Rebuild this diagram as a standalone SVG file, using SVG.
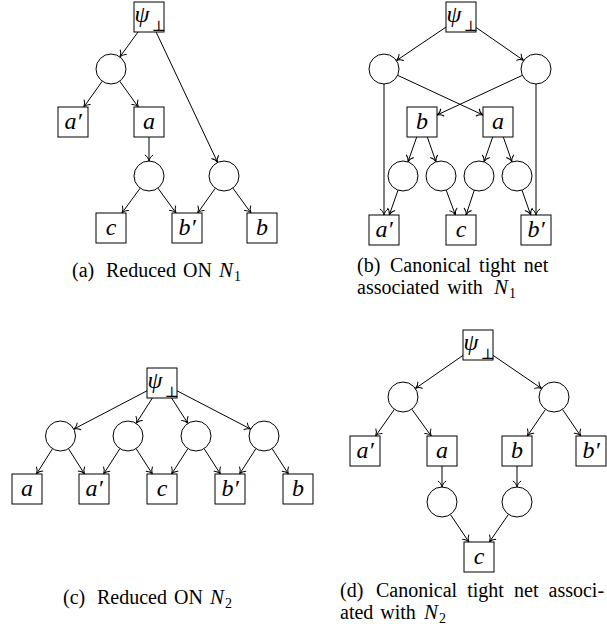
<svg xmlns="http://www.w3.org/2000/svg" width="607" height="636" viewBox="0 0 607 636">
<defs>
<style>
.bx{fill:#fff;stroke:#000;stroke-width:1}
.ci{fill:#fff;stroke:#000;stroke-width:1}
.lb{font-family:"Liberation Serif","Times New Roman",serif;font-style:italic;font-size:24px;text-anchor:middle;fill:#000}
.ps{font-family:"Liberation Serif","Times New Roman",serif;font-style:italic;font-size:24px;fill:#000}
.bot{font-family:"DejaVu Serif",serif;font-size:15px;fill:#000}
.cap{font-family:"Liberation Serif","Times New Roman",serif;font-size:20px;fill:#000}
.it{font-style:italic;font-size:21px}
.sub{font-size:14px;font-style:normal}
.e{fill:none;stroke:#000;stroke-width:1;marker-end:url(#arr)}
</style>
<marker id="arr" viewBox="-7 -5 8 10" refX="0" refY="0" markerWidth="8" markerHeight="10" markerUnits="userSpaceOnUse" orient="auto">
<path d="M-5.8,-3.8 C-4.6,-1.7 -2,-0.4 0,0 C-2,0.4 -4.6,1.7 -5.8,3.8" fill="none" stroke="#000" stroke-width="1" stroke-linecap="round"/>
</marker>
</defs>

<g id="connectors">
<!-- panel a -->
<path class="e" d="M138,32 L119.9,56.9"/>
<path class="e" d="M156.1,32 L217.6,162.4"/>
<path class="e" d="M102.3,81.2 L83.8,107"/>
<path class="e" d="M119.7,81.2 L138.3,107"/>
<path class="e" d="M149,137 L149,161"/>
<path class="e" d="M140.2,188.1 L122,213"/>
<path class="e" d="M157.9,188.1 L176,213"/>
<path class="e" d="M215.3,188.2 L197.7,213"/>
<path class="e" d="M232.9,188.1 L251,213"/>
<!-- panel b -->
<path class="e" d="M446,27.1 L396.4,60.6"/>
<path class="e" d="M476,27.4 L523.7,60.5"/>
<path class="e" d="M384,84 L384,215"/>
<path class="e" d="M397.6,75.3 L483,115"/>
<path class="e" d="M522.4,75.3 L437,115"/>
<path class="e" d="M536,84 L536,215"/>
<path class="e" d="M416.7,137 L408,161.9"/>
<path class="e" d="M427.3,137 L436,161.9"/>
<path class="e" d="M492.7,137 L484,161.9"/>
<path class="e" d="M503.3,137 L512,161.9"/>
<path class="e" d="M398,190.2 L389.3,215"/>
<path class="e" d="M446.2,190.1 L455.4,215"/>
<path class="e" d="M474.3,190.2 L466,215"/>
<path class="e" d="M522,190.2 L530.7,215"/>
<!-- panel c -->
<path class="e" d="M147,390.8 L73.8,429.1"/>
<path class="e" d="M152.4,398 L136.1,423.4"/>
<path class="e" d="M171.6,398 L187.9,423.4"/>
<path class="e" d="M177,390.8 L250.7,429.1"/>
<path class="e" d="M52.5,448.7 L36.5,474"/>
<path class="e" d="M68.5,448.7 L84.5,474"/>
<path class="e" d="M119.9,448.6 L103.6,474"/>
<path class="e" d="M136.1,448.6 L152.4,474"/>
<path class="e" d="M187.9,448.6 L171.6,474"/>
<path class="e" d="M204.1,448.6 L220.4,474"/>
<path class="e" d="M255.9,448.6 L239.6,474"/>
<path class="e" d="M272.1,448.6 L288.4,474"/>
<!-- panel d -->
<path class="e" d="M463,355.4 L415.3,388.5"/>
<path class="e" d="M493,355.3 L541.6,388.5"/>
<path class="e" d="M394.4,409.3 L375.6,436"/>
<path class="e" d="M411.8,409.2 L431.2,436"/>
<path class="e" d="M545.5,409.4 L527.3,436"/>
<path class="e" d="M562.5,409.4 L580.7,436"/>
<path class="e" d="M442,466 L442,487"/>
<path class="e" d="M517,466 L517,487"/>
<path class="e" d="M450.4,514.5 L468.9,542"/>
<path class="e" d="M508.5,514.3 L489.4,542"/>
</g>

<!-- Panel (a) -->
<g id="a-psi"><rect class="bx" x="134" y="2" width="30" height="30"/><text class="ps" x="134.5" y="22">ψ</text><text class="bot" x="151.5" y="31">⊥</text></g>
<g id="a-or1"><circle class="ci" cx="111" cy="69" r="15"/></g>
<g id="a-aprime"><rect class="bx" x="58" y="107" width="30" height="30"/><text class="lb" x="73" y="129">a′</text></g>
<g id="a-a"><rect class="bx" x="134" y="107" width="30" height="30"/><text class="lb" x="149" y="129">a</text></g>
<g id="a-or2"><circle class="ci" cx="149" cy="176" r="15"/></g>
<g id="a-or3"><circle class="ci" cx="224" cy="176" r="15"/></g>
<g id="a-c"><rect class="bx" x="96" y="213" width="30" height="30"/><text class="lb" x="111" y="235">c</text></g>
<g id="a-bprime"><rect class="bx" x="172" y="213" width="30" height="30"/><text class="lb" x="187" y="235">b′</text></g>
<g id="a-b"><rect class="bx" x="247" y="213" width="30" height="30"/><text class="lb" x="262" y="235">b</text></g>
<text class="cap" y="276.5"><tspan x="72">(a)</tspan><tspan x="106" word-spacing="2">Reduced ON</tspan><tspan class="it" x="219">N</tspan><tspan class="sub" x="234" dy="4">1</tspan></text>

<!-- Panel (b) -->
<g id="b-psi"><rect class="bx" x="446" y="2" width="30" height="30"/><text class="ps" x="446.5" y="22">ψ</text><text class="bot" x="463.5" y="31">⊥</text></g>
<g id="b-orL"><circle class="ci" cx="384" cy="69" r="15"/></g>
<g id="b-orR"><circle class="ci" cx="536" cy="69" r="15"/></g>
<g id="b-b"><rect class="bx" x="407" y="107" width="30" height="30"/><text class="lb" x="422" y="129">b</text></g>
<g id="b-a"><rect class="bx" x="483" y="107" width="30" height="30"/><text class="lb" x="498" y="129">a</text></g>
<g id="b-k1"><circle class="ci" cx="403" cy="176" r="15"/></g>
<g id="b-k2"><circle class="ci" cx="441" cy="176" r="15"/></g>
<g id="b-k3"><circle class="ci" cx="479" cy="176" r="15"/></g>
<g id="b-k4"><circle class="ci" cx="517" cy="176" r="15"/></g>
<g id="b-aprime"><rect class="bx" x="369" y="215" width="30" height="30"/><text class="lb" x="384" y="237">a′</text></g>
<g id="b-c"><rect class="bx" x="446" y="215" width="30" height="30"/><text class="lb" x="461" y="237">c</text></g>
<g id="b-bprime"><rect class="bx" x="521" y="215" width="30" height="30"/><text class="lb" x="536" y="237">b′</text></g>
<text class="cap" y="271.5"><tspan x="357">(b)</tspan><tspan x="390" word-spacing="3">Canonical tight net</tspan></text>
<text class="cap" y="294"><tspan x="357" word-spacing="3">associated with</tspan><tspan class="it" x="494">N</tspan><tspan class="sub" x="509" dy="4">1</tspan></text>

<!-- Panel (c) -->
<g id="c-psi"><rect class="bx" x="147" y="368" width="30" height="30"/><text class="ps" x="147.5" y="388">ψ</text><text class="bot" x="164.5" y="397">⊥</text></g>
<g id="c-or1"><circle class="ci" cx="60.5" cy="436" r="15"/></g>
<g id="c-or2"><circle class="ci" cx="128" cy="436" r="15"/></g>
<g id="c-or3"><circle class="ci" cx="196" cy="436" r="15"/></g>
<g id="c-or4"><circle class="ci" cx="264" cy="436" r="15"/></g>
<g id="c-a"><rect class="bx" x="12" y="474" width="30" height="30"/><text class="lb" x="27" y="496">a</text></g>
<g id="c-aprime"><rect class="bx" x="79" y="474" width="30" height="30"/><text class="lb" x="94" y="496">a′</text></g>
<g id="c-c"><rect class="bx" x="147" y="474" width="30" height="30"/><text class="lb" x="162" y="496">c</text></g>
<g id="c-bprime"><rect class="bx" x="215" y="474" width="30" height="30"/><text class="lb" x="230" y="496">b′</text></g>
<g id="c-b"><rect class="bx" x="283" y="474" width="30" height="30"/><text class="lb" x="298" y="496">b</text></g>
<text class="cap" y="604"><tspan x="63">(c)</tspan><tspan x="97" word-spacing="2">Reduced ON</tspan><tspan class="it" x="210">N</tspan><tspan class="sub" x="225" dy="4">2</tspan></text>

<!-- Panel (d) -->
<g id="d-psi"><rect class="bx" x="463" y="330" width="30" height="30"/><text class="ps" x="463.5" y="350">ψ</text><text class="bot" x="480.5" y="359">⊥</text></g>
<g id="d-orL"><circle class="ci" cx="403" cy="397" r="15"/></g>
<g id="d-orR"><circle class="ci" cx="554" cy="397" r="15"/></g>
<g id="d-aprime"><rect class="bx" x="350" y="436" width="30" height="30"/><text class="lb" x="365" y="458">a′</text></g>
<g id="d-a"><rect class="bx" x="427" y="436" width="30" height="30"/><text class="lb" x="442" y="458">a</text></g>
<g id="d-b"><rect class="bx" x="502" y="436" width="30" height="30"/><text class="lb" x="517" y="458">b</text></g>
<g id="d-bprime"><rect class="bx" x="576" y="436" width="30" height="30"/><text class="lb" x="591" y="458">b′</text></g>
<g id="d-orA"><circle class="ci" cx="442" cy="502" r="15"/></g>
<g id="d-orB"><circle class="ci" cx="517" cy="502" r="15"/></g>
<g id="d-c"><rect class="bx" x="464" y="542" width="30" height="30"/><text class="lb" x="479" y="564">c</text></g>
<text class="cap" y="596.5"><tspan x="340">(d)</tspan><tspan x="376">Canonical</tspan><tspan x="467.2">tight</tspan><tspan x="514">net</tspan><tspan x="548.5">associ-</tspan></text>
<text class="cap" y="619"><tspan x="340" word-spacing="2">ated with</tspan><tspan class="it" x="424">N</tspan><tspan class="sub" x="439" dy="4">2</tspan></text>
</svg>
